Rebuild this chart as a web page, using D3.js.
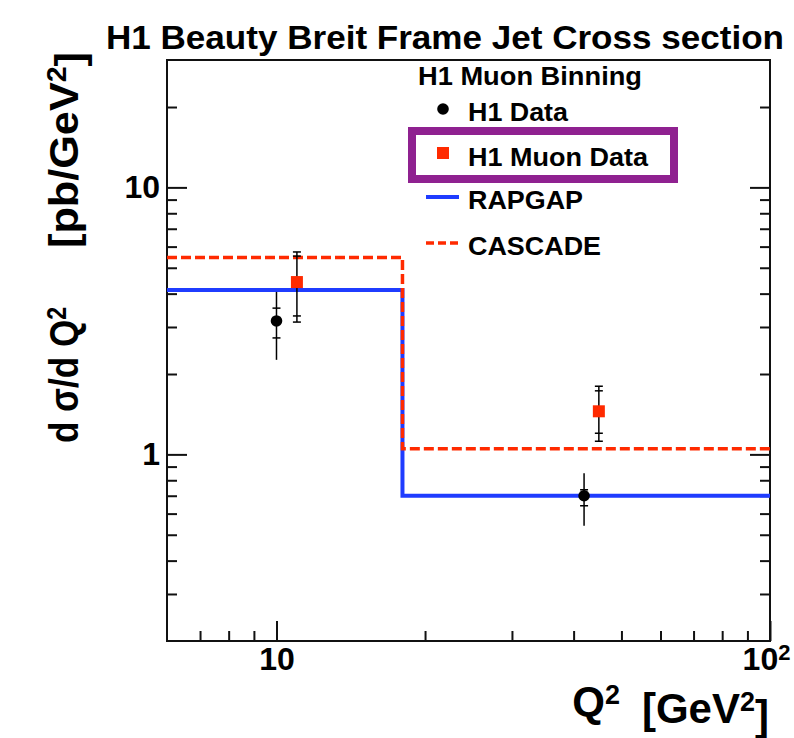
<!DOCTYPE html>
<html>
<head>
<meta charset="utf-8">
<script src="https://cdn.jsdelivr.net/npm/d3@7"></script>
<style>
  html, body { margin: 0; padding: 0; background: #fff; }
  svg { display: block; }
  text { font-family: "Liberation Sans", Arial, Helvetica, sans-serif; font-weight: bold; fill: #000; }
</style>
</head>
<body>
<svg id="chart" width="794" height="738"></svg>
<script>
// ---------------- data ----------------
const binEdges = [6, 18, 100];            // Q^2 bin edges [GeV^2]
const rapgap   = [4.13, 0.70];            // RAPGAP prediction per bin
const cascade  = [5.46, 1.05];            // CASCADE prediction per bin

const h1Q2     = [10, 42];
const h1Val    = [3.16, 0.70];
const h1StatLo = [2.73, 0.642];
const h1StatHi = [3.53, 0.737];
const h1TotLo  = [2.26, 0.54];
const h1TotHi  = [4.06, 0.85];

const muQ2     = [11, 45];
const muVal    = [4.42, 1.45];
const muStatLo = [3.30, 1.20];
const muStatHi = [5.53, 1.73];
const muTotLo  = [3.13, 1.12];
const muTotHi  = [5.73, 1.80];

const xMajor = [10, 100];
const xMinor = [7, 8, 9, 20, 30, 40, 50, 60, 70, 80, 90];
const yMajor = [1, 10];
const yMinor = [0.3, 0.4, 0.5, 0.6, 0.7, 0.8, 0.9, 2, 3, 4, 5, 6, 7, 8, 9, 20];

const title = "H1 Beauty Breit Frame Jet Cross section";
const legendHeader = "H1 Muon Binning";
const legendLabels = ["H1 Data", "H1 Muon Data", "RAPGAP", "CASCADE"];

// ---------------- layout ----------------
const L = 167, R = 770, T = 60, B = 641;
const RED = "#ff2a00", BLUE = "#1f3cff", PURPLE = "#8f2190";

const svg = d3.select("#chart");
svg.append("rect").attr("width", 794).attr("height", 738).attr("fill", "#fff");

const x = d3.scaleLog().domain([6, 100]).range([L, R]);
const y = d3.scaleLog().domain([0.2, 30]).range([B, T]);

// ---------------- axes ----------------
function styleAxis(g) {
  g.select(".domain").remove();
  g.selectAll(".tick line").attr("stroke", "#111").attr("stroke-width", 2);
}
// bottom
svg.append("g").attr("transform", `translate(0,${B})`)
  .call(d3.axisBottom(x).tickValues(xMinor).tickSize(-10).tickFormat(""))
  .call(styleAxis);
const xMaj = svg.append("g").attr("transform", `translate(0,${B})`)
  .call(d3.axisBottom(x).tickValues(xMajor).tickSize(-20).tickPadding(6).tickFormat(d => "10"))
  .call(styleAxis);
xMaj.selectAll(".tick text")
  .attr("font-size", 32).attr("font-family", "Liberation Sans, Arial, sans-serif").attr("font-weight", "bold").attr("fill", "#000")
  .each(function(d) {
    if (d === 100) {
      d3.select(this).attr("text-anchor", "middle").attr("dx", "-4")
        .append("tspan").attr("dy", "-0.42em").attr("font-size", 22).text("2");
    }
  });
// left
svg.append("g").attr("transform", `translate(${L},0)`)
  .call(d3.axisLeft(y).tickValues(yMinor).tickSize(-10).tickFormat(""))
  .call(styleAxis);
const yMaj = svg.append("g").attr("transform", `translate(${L},0)`)
  .call(d3.axisLeft(y).tickValues(yMajor).tickSize(-20).tickPadding(7).tickFormat(d => d3.format("d")(d)))
  .call(styleAxis);
yMaj.selectAll(".tick text")
  .attr("font-size", 32).attr("font-family", "Liberation Sans, Arial, sans-serif").attr("font-weight", "bold").attr("fill", "#000");
// right
svg.append("g").attr("transform", `translate(${R},0)`)
  .call(d3.axisRight(y).tickValues(yMinor).tickSize(-10).tickFormat(""))
  .call(styleAxis);
svg.append("g").attr("transform", `translate(${R},0)`)
  .call(d3.axisRight(y).tickValues(yMajor).tickSize(-20).tickFormat(""))
  .call(styleAxis);

// frame
svg.append("rect").attr("x", L).attr("y", T).attr("width", R - L).attr("height", B - T)
  .attr("fill", "none").attr("stroke", "#111").attr("stroke-width", 2);

// ---------------- histograms ----------------
const stepLine = d3.line().x(d => x(d[0])).y(d => y(d[1])).curve(d3.curveStepAfter);
function histPoints(vals) {
  const pts = vals.map((v, i) => [binEdges[i], v]);
  pts.push([binEdges[binEdges.length - 1], vals[vals.length - 1]]);
  return pts;
}
svg.append("path").attr("d", stepLine(histPoints(rapgap)))
  .attr("fill", "none").attr("stroke", BLUE).attr("stroke-width", 4);
svg.append("path").attr("d", stepLine(histPoints(cascade)))
  .attr("fill", "none").attr("stroke", RED).attr("stroke-width", 3.5).attr("stroke-dasharray", "10,4");

// ---------------- data points ----------------
function errTick(g, xv, yv) {
  g.append("line").attr("x1", x(xv) - 4).attr("x2", x(xv) + 4)
    .attr("y1", y(yv)).attr("y2", y(yv)).attr("stroke", "#000").attr("stroke-width", 1.5);
}
const gH1 = svg.append("g");
h1Q2.forEach((q, i) => {
  gH1.append("line").attr("x1", x(q)).attr("x2", x(q))
    .attr("y1", y(h1TotHi[i])).attr("y2", y(h1TotLo[i])).attr("stroke", "#000").attr("stroke-width", 1.5);
  errTick(gH1, q, h1StatHi[i]); errTick(gH1, q, h1StatLo[i]);
  gH1.append("circle").attr("cx", x(q)).attr("cy", y(h1Val[i])).attr("r", 5.8).attr("fill", "#000");
});
const gMu = svg.append("g");
muQ2.forEach((q, i) => {
  gMu.append("line").attr("x1", x(q)).attr("x2", x(q))
    .attr("y1", y(muTotHi[i])).attr("y2", y(muTotLo[i])).attr("stroke", "#000").attr("stroke-width", 1.5);
  errTick(gMu, q, muStatHi[i]); errTick(gMu, q, muStatLo[i]);
  errTick(gMu, q, muTotHi[i]); errTick(gMu, q, muTotLo[i]);
  gMu.append("rect").attr("x", x(q) - 6).attr("y", y(muVal[i]) - 6)
    .attr("width", 12).attr("height", 12).attr("fill", RED);
});

// ---------------- title ----------------
svg.append("text").attr("x", 106).attr("y", 49).attr("font-size", 34)
  .attr("textLength", 678).attr("lengthAdjust", "spacingAndGlyphs").text(title);

// ---------------- legend ----------------
const lg = svg.append("g");
lg.append("text").attr("x", 418).attr("y", 85).attr("font-size", 26)
  .attr("textLength", 224).attr("lengthAdjust", "spacingAndGlyphs").text(legendHeader);
lg.append("rect").attr("x", 412).attr("y", 131).attr("width", 262).attr("height", 48)
  .attr("fill", "none").attr("stroke", PURPLE).attr("stroke-width", 8);
lg.append("circle").attr("cx", 443).attr("cy", 109).attr("r", 5.8).attr("fill", "#000");
lg.append("rect").attr("x", 437).attr("y", 147).attr("width", 12).attr("height", 12).attr("fill", RED);
lg.append("line").attr("x1", 426).attr("x2", 459).attr("y1", 197).attr("y2", 197)
  .attr("stroke", BLUE).attr("stroke-width", 4);
lg.append("line").attr("x1", 426).attr("x2", 459).attr("y1", 243).attr("y2", 243)
  .attr("stroke", RED).attr("stroke-width", 3.5).attr("stroke-dasharray", "8,4");
const legBase = [121, 166, 209, 255];
const legLen = [100, 180, 115, 133];
legendLabels.forEach((t, i) => {
  lg.append("text").attr("x", 468).attr("y", legBase[i]).attr("font-size", 26)
    .attr("textLength", legLen[i]).attr("lengthAdjust", "spacingAndGlyphs").text(t);
});

// ---------------- axis titles ----------------
const xt = svg.append("text").attr("x", 769).attr("y", 716).attr("font-size", 42).attr("text-anchor", "end");
xt.append("tspan").text("Q");
xt.append("tspan").attr("dy", "-0.45em").attr("font-size", 27).text("2");
xt.append("tspan").attr("dy", "0.45em").attr("dx", 22).text("[GeV");
xt.append("tspan").attr("dy", "-0.45em").attr("font-size", 27).text("2");
xt.append("tspan").attr("dy", "0.45em").text("]");

const yt1 = svg.append("text").attr("transform", "translate(78,443) rotate(-90)").attr("font-size", 41)
  .attr("textLength", 136).attr("lengthAdjust", "spacingAndGlyphs");
yt1.append("tspan").text("d σ/d Q");
yt1.append("tspan").attr("dy", "-0.45em").attr("font-size", 27).text("2");
const yt2 = svg.append("text").attr("transform", "translate(78,52) rotate(-90)").attr("font-size", 41)
  .attr("text-anchor", "end").attr("textLength", 196).attr("lengthAdjust", "spacingAndGlyphs");
yt2.append("tspan").text("[pb/GeV");
yt2.append("tspan").attr("dy", "-0.45em").attr("font-size", 27).text("2");
yt2.append("tspan").attr("dy", "0.45em").text("]");
</script>
</body>
</html>
